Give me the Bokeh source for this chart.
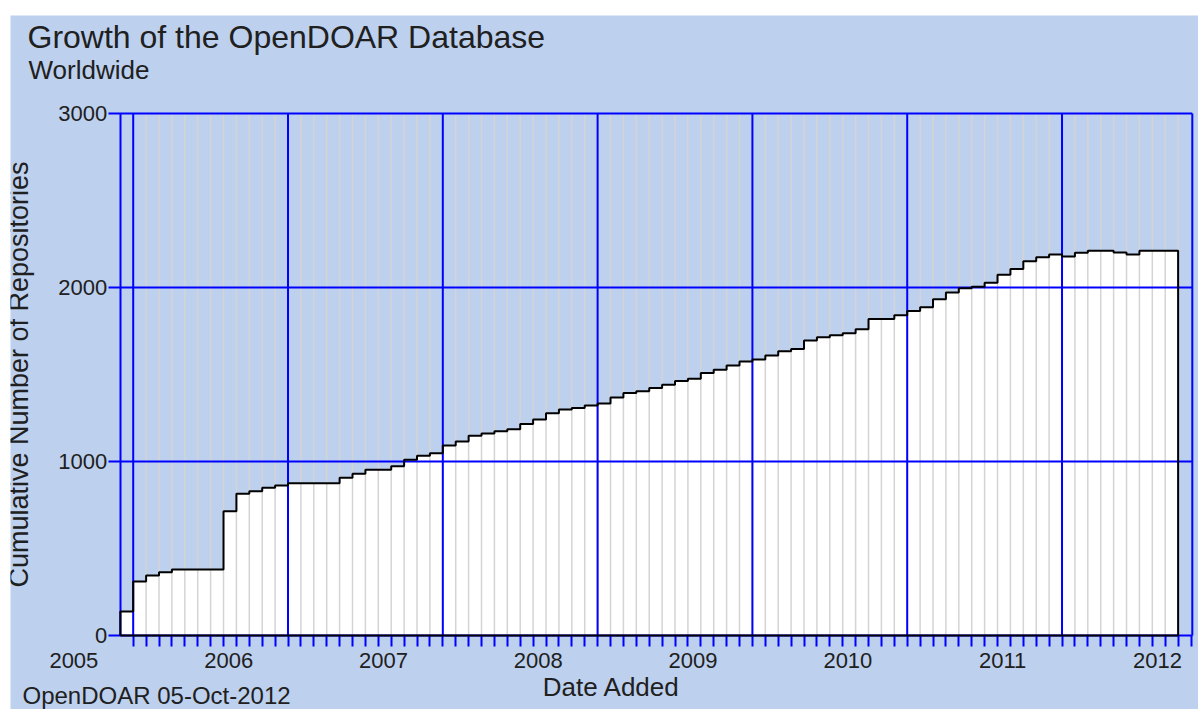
from bokeh.plotting import figure
from bokeh.models import Range1d, FixedTicker, Label, LabelSet, ColumnDataSource
from bokeh.core.properties import value
from bokeh.embed import file_html
from bokeh.resources import INLINE

# ---- data ----
counts = [138, 310, 345, 364, 379, 379, 379, 379, 714, 814,
          829, 849, 862, 875, 875, 875, 875, 906, 929, 952,
          952, 973, 1010, 1033, 1048, 1092, 1115, 1148, 1161, 1174,
          1186, 1215, 1241, 1278, 1299, 1308, 1322, 1333, 1368, 1393,
          1404, 1423, 1441, 1462, 1475, 1508, 1527, 1552, 1575, 1586,
          1609, 1634, 1647, 1695, 1714, 1726, 1737, 1760, 1819, 1819,
          1840, 1865, 1887, 1933, 1971, 1995, 2004, 2028, 2073, 2107,
          2151, 2174, 2190, 2178, 2199, 2211, 2211, 2201, 2190, 2211,
          2211, 2211]
years = ["2005", "2006", "2007", "2008", "2009", "2010", "2011", "2012"]
y_ticks = [0, 1000, 2000, 3000]
year_label_offset = -3.6      # month index of the first year label
major_months = [1, 13, 25, 37, 49, 61, 73]
frame_end = 83.1              # right edge of plotting area (months)

BG = "#BDD0EE"
BLUE = "#0000FF"
GREY = "#d4d4d4"
TXT = "#202020"
FONT = "Liberation Sans"

n = len(counts)
months = list(range(n))

p = figure(width=1198, height=709,
           x_range=Range1d(-8.512, 83.58), y_range=Range1d(-425.3, 3563.2),
           output_backend="svg", toolbar_location=None,
           min_border_left=10, min_border_right=0,
           min_border_top=15, min_border_bottom=0,
           background_fill_color=BG, border_fill_color="white",
           outline_line_color=None)
p.xgrid.visible = False
p.ygrid.visible = False

# bars (white, lowest level)
src = ColumnDataSource(dict(x=[m + 0.5 for m in months], top=counts))
bars = p.vbar(x="x", top="top", width=1.0, bottom=0, source=src,
              fill_color="white", line_color=None)
bars.level = "image"

# grid lines limited to the plotting area
ymax = y_ticks[-1]
minor_x = list(range(1, n + 1))
g1 = p.segment(x0=minor_x, y0=[0] * len(minor_x), x1=minor_x, y1=[ymax] * len(minor_x),
               line_color=GREY, line_width=1.5)
g1.level = "underlay"
vmaj = major_months + [frame_end]
g2 = p.segment(x0=vmaj, y0=[0] * len(vmaj), x1=vmaj, y1=[ymax] * len(vmaj),
               line_color=BLUE, line_width=2)
g2.level = "underlay"
hl = y_ticks[1:]
g3 = p.segment(x0=[0] * len(hl), y0=hl, x1=[frame_end] * len(hl), y1=hl,
               line_color=BLUE, line_width=2)
g3.level = "underlay"

# outline step line
ox, oy = [0], [0]
for i, c in enumerate(counts):
    ox += [i, i + 1]
    oy += [c, c]
ox += [n, 0]
oy += [0, 0]
outline = p.line(ox, oy, line_color="black", line_width=2)
outline.level = "overlay"

# x axis: month ticks only
xa = p.xaxis[0]
xa.fixed_location = 0
xa.bounds = (0, frame_end)
xa.ticker = FixedTicker(ticks=[], minor_ticks=list(range(1, n + 2)))
xa.axis_line_color = BLUE
xa.axis_line_width = 2
xa.minor_tick_line_color = BLUE
xa.minor_tick_line_width = 2
xa.minor_tick_out = 11
xa.minor_tick_in = 0
xa.major_tick_line_color = None
xa.major_label_text_font_size = "0px"

# y axis
ya = p.yaxis[0]
ya.fixed_location = 0
ya.bounds = (0, ymax)
ya.ticker = FixedTicker(ticks=y_ticks)
ya.axis_line_color = BLUE
ya.axis_line_width = 2
ya.major_tick_line_color = BLUE
ya.major_tick_line_width = 2
ya.major_tick_out = 12
ya.major_tick_in = 0
ya.minor_tick_line_color = None
ya.major_label_standoff = 1
ya.major_label_text_font = FONT
ya.major_label_text_font_size = "22px"
ya.major_label_text_color = TXT
ya.axis_label = "Cumulative Number of Repositories"
ya.axis_label_text_font = FONT
ya.axis_label_text_font_size = "27px"
ya.axis_label_text_font_style = "normal"
ya.axis_label_text_color = TXT
ya.axis_label_standoff = 22

# year labels
ysrc = ColumnDataSource(dict(x=[year_label_offset + 12 * k for k in range(len(years))],
                             y=[0] * len(years), text=years))
p.add_layout(LabelSet(x="x", y="y", text="text", source=ysrc,
                      x_units="data", y_units="data", y_offset=-33,
                      text_align="center", text_baseline="alphabetic",
                      text_font=value(FONT), text_font_size=value("22px"),
                      text_color=TXT))

def txt(s, x, y, size, align="left"):
    p.add_layout(Label(x=x, y=y, x_units="screen", y_units="screen", text=s,
                       text_font=FONT, text_font_size=size, text_color=TXT,
                       text_align=align, text_baseline="middle"))

txt("Growth of the OpenDOAR Database", 17, 673, "32px")
txt("Worldwide", 18, 640, "26px")
txt("Date Added", 601, 23, "26px", "center")
txt("OpenDOAR 05-Oct-2012", 12, 14, "24px")

open("out.html", "w").write(file_html(p, INLINE))
